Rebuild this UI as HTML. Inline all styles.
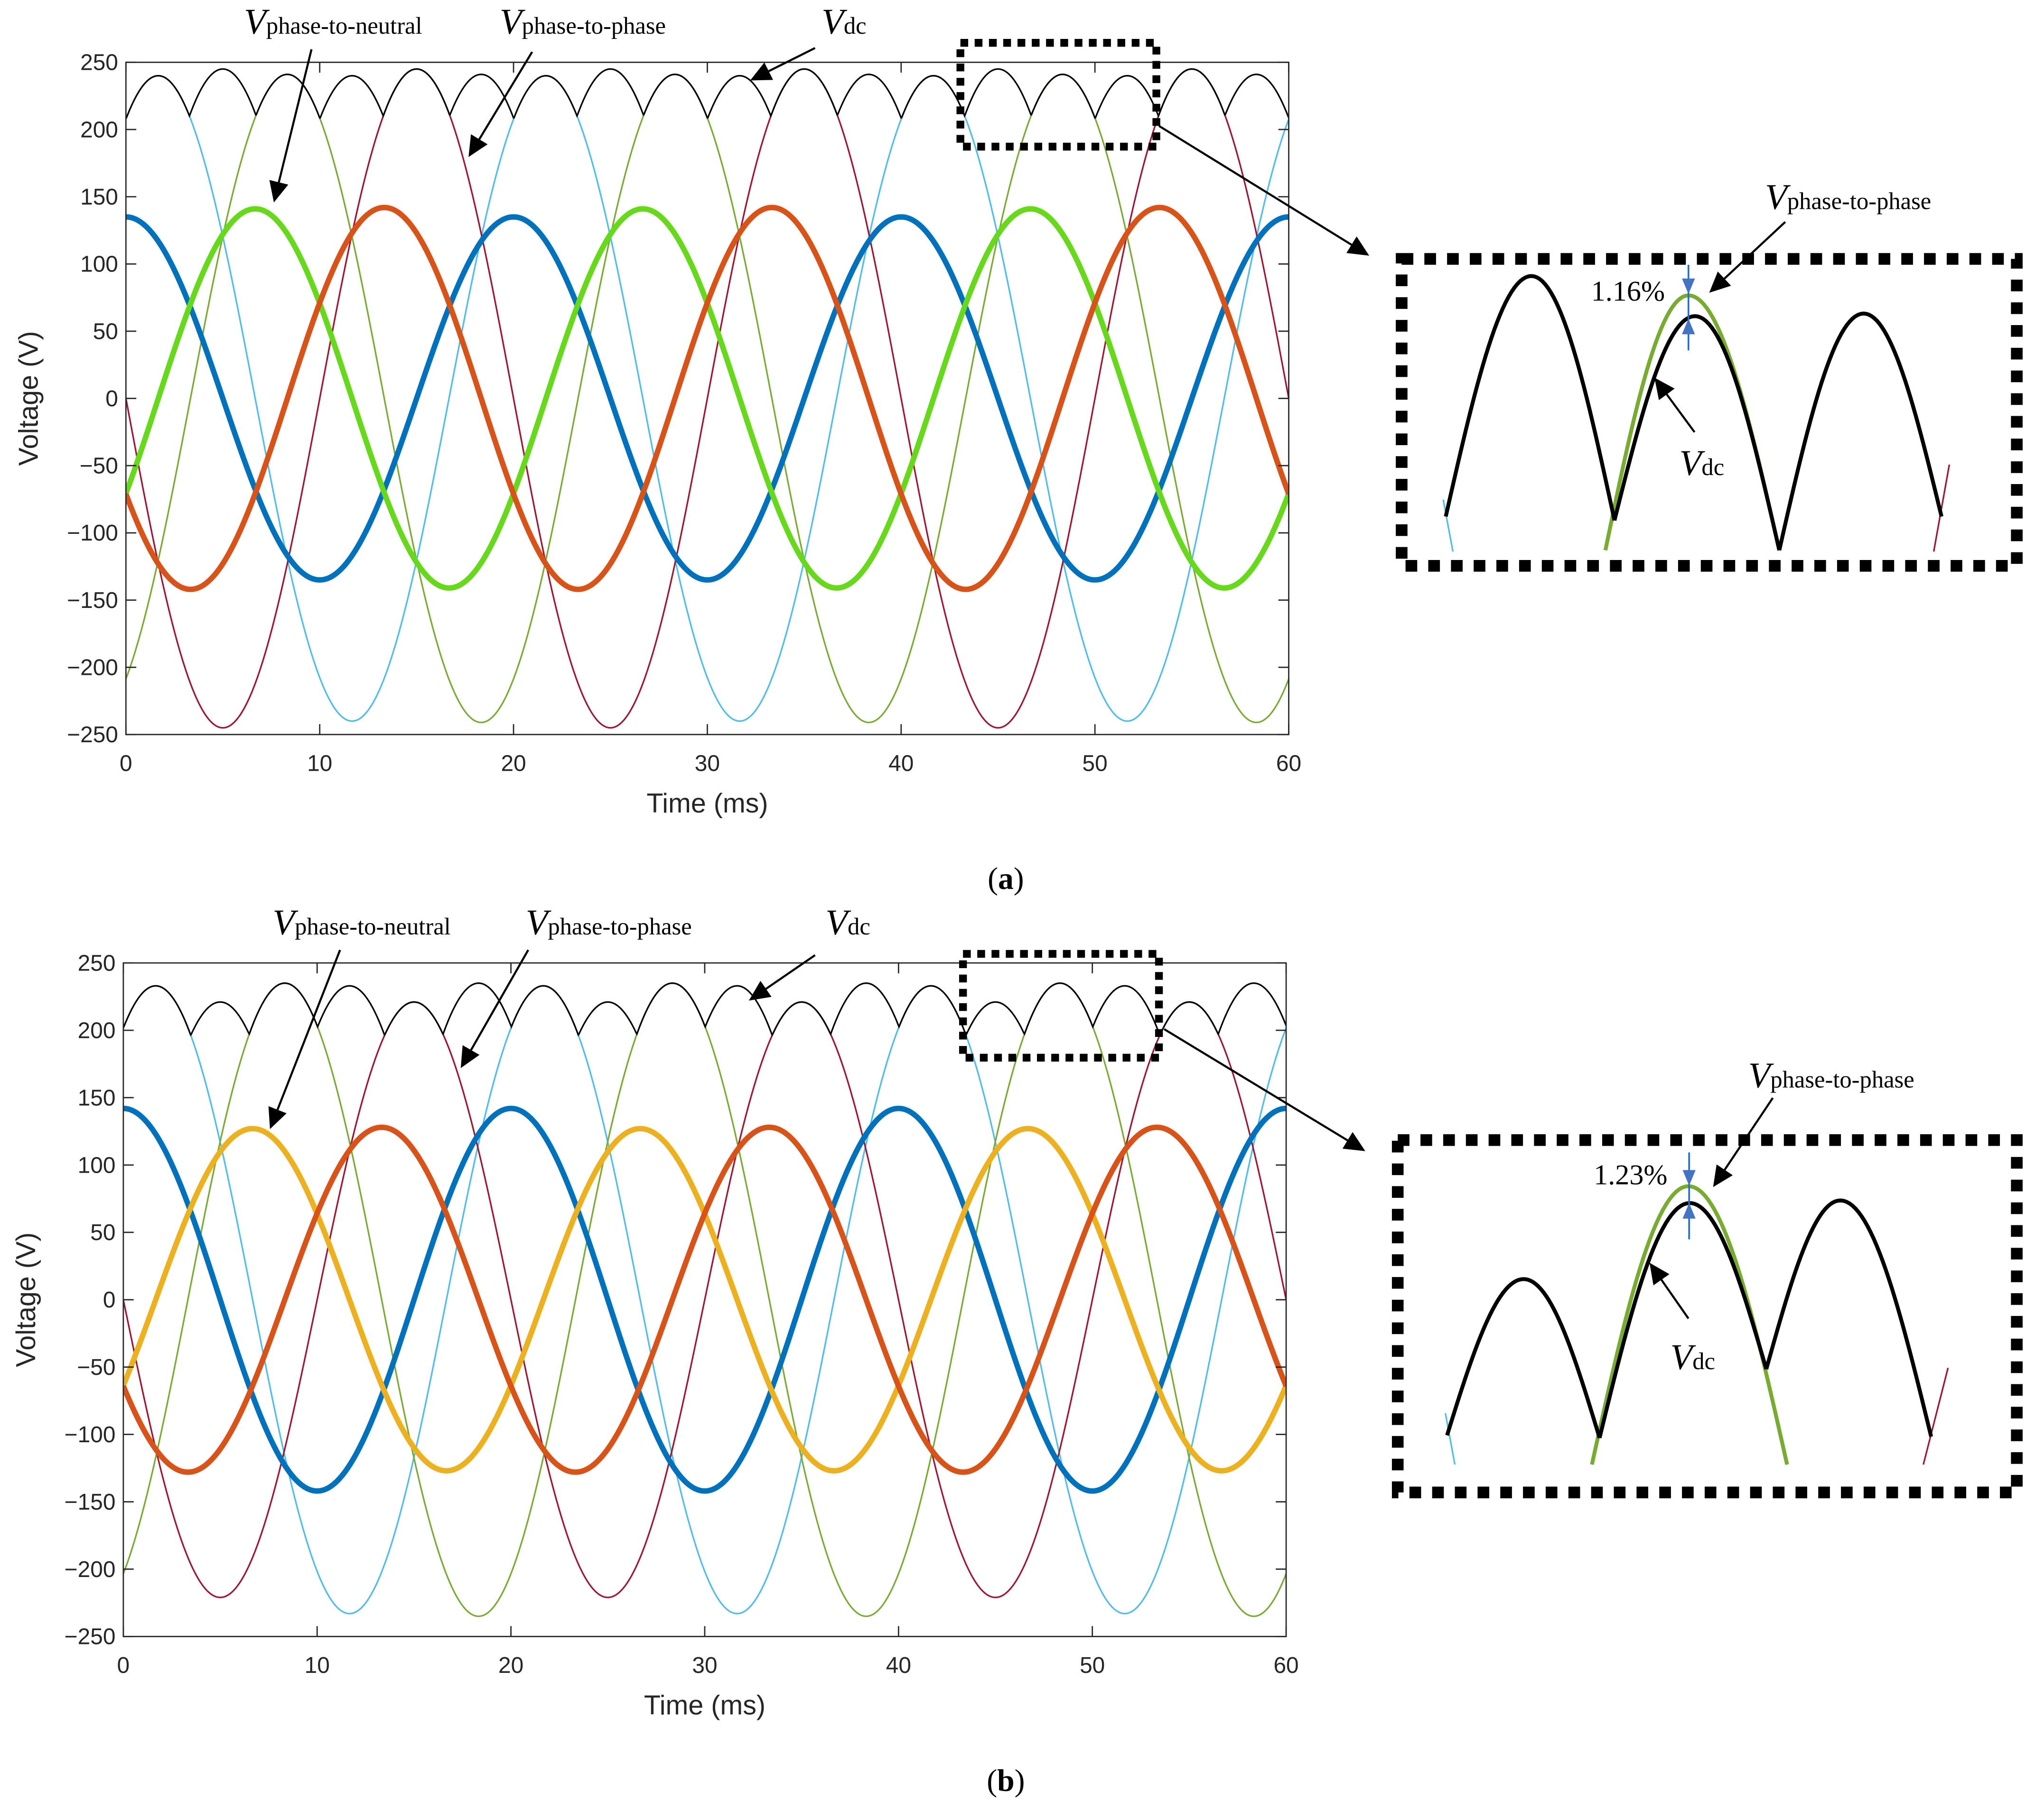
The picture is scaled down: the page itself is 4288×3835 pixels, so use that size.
<!DOCTYPE html>
<html><head><meta charset="utf-8"><style>
html,body{margin:0;padding:0;background:#fff;}
svg{display:block;}
text{font-family:"Liberation Sans",sans-serif;}
.ser{font-family:"Liberation Serif",serif;}
</style></head><body>
<svg id="fig" xmlns="http://www.w3.org/2000/svg" width="4288" height="3835" viewBox="0 0 1568 1402.4">
<rect width="1568" height="1402.4" fill="#fff"/>
</svg>
<script>
// ---------- data (panel a) ----------
const timeRange = [0, 60];           // ms
const voltRange = [-250, 250];       // V
const yTicks = [-250,-200,-150,-100,-50,0,50,100,150,200,250];
const xTicks = [0,10,20,30,40,50,60];
const periodMs = 20;
// phase-to-neutral (thick): amplitude, time of peak (ms)
const aNeutralAmp = [135, 141, 142];
const aNeutralPeak = [0, 6.67, 13.33];
const aNeutralColor = ['#0072BD', '#66D91A', '#D95319'];
// phase-to-phase (thin)
const aLineAmp = [240, 241, 245];
const aLinePeak = [1.67, 8.33, 15.0];
const aLineColor = ['#4DBEEE', '#77AC30', '#A2142F'];
// ---------- data (panel b) ----------
const bNeutralAmp = [142, 127, 128];
const bNeutralPeak = [0, 6.67, 13.33];
const bNeutralColor = ['#0072BD', '#EDB120', '#D95319'];
const bLineAmp = [233, 235, 221];
const bLinePeak = [1.67, 8.33, 15.0];
const bLineColor = ['#4DBEEE', '#77AC30', '#A2142F'];

const NS = 'http://www.w3.org/2000/svg';
const svg = document.getElementById('fig');
function el(tag, attrs, parent){
  const e = document.createElementNS(NS, tag);
  for (const k in attrs) e.setAttribute(k, attrs[k]);
  (parent||svg).appendChild(e);
  return e;
}
function arrow(g, x1,y1,x2,y2, name){
  const a = el('g', {}, g);
  
  
  const dx=x2-x1, dy=y2-y1, L=Math.hypot(dx,dy), ux=dx/L, uy=dy/L;
  const hl=16, hw=7.5;
  const bx=x2-ux*hl, by=y2-uy*hl;
  el('line',{x1:x1,y1:y1,x2:bx,y2:by,stroke:'#000','stroke-width':1.6},a);
  el('polygon',{points:`${x2},${y2} ${bx-uy*hw},${by+ux*hw} ${bx+uy*hw},${by-ux*hw}`,fill:'#000'},a);
}
function vlabel(g, x, y, sub, name){
  const t = el('text', {x:x, y:y, 'font-size':28, class:'ser', fill:'#000'}, g);
  
  
  const v = el('tspan', {'font-style':'italic'}, t); v.textContent='V';
  const s = el('tspan', {'font-size':18.5, dy:0}, t); s.textContent=sub;
  return t;
}

function panel(P){
  const g = el('g', {});
  
  
  const X = t => P.x0 + (t - timeRange[0])/(timeRange[1]-timeRange[0])*(P.x1-P.x0);
  const Y = v => P.y1 - (v - voltRange[0])/(voltRange[1]-voltRange[0])*(P.y1-P.y0);
  const area = el('g', {}, g);
  
  
  el('rect',{x:P.x0,y:P.y0,width:P.x1-P.x0,height:P.y1-P.y0,fill:'#fff'},area);
  const cp = el('clipPath',{id:'cp'+P.id},g);
  el('rect',{x:P.x0,y:P.y0-2,width:P.x1-P.x0,height:P.y1-P.y0+4},cp);
  const lines = el('g',{'clip-path':`url(#cp${P.id})`},g);
  const N = 1200;
  function wave(A, pk, t){ return A*Math.cos(2*Math.PI*(t-pk)/periodMs); }
  P.lineAmp.forEach((A,i)=>{
    let d='';
    for(let k=0;k<=N;k++){ const t=timeRange[0]+k*(timeRange[1]-timeRange[0])/N; d+=(k?'L':'M')+X(t).toFixed(2)+','+Y(wave(A,P.linePeak[i],t)).toFixed(2); }
    const p = el('path',{d:d,fill:'none',stroke:P.lineColor[i],'stroke-width':1.2},lines);
    
    
  });
  P.neutralAmp.forEach((A,i)=>{
    let d='';
    for(let k=0;k<=N;k++){ const t=timeRange[0]+k*(timeRange[1]-timeRange[0])/N; d+=(k?'L':'M')+X(t).toFixed(2)+','+Y(wave(A,P.neutralPeak[i],t)).toFixed(2); }
    const p = el('path',{d:d,fill:'none',stroke:P.neutralColor[i],'stroke-width':4.2},lines);
    
    
  });
  let d='';
  for(let k=0;k<=N*2;k++){ const t=timeRange[0]+k*(timeRange[1]-timeRange[0])/(N*2);
    let m=0; P.lineAmp.forEach((A,i)=>{ m=Math.max(m,Math.abs(wave(A,P.linePeak[i],t))); });
    d+=(k?'L':'M')+X(t).toFixed(2)+','+Y(m).toFixed(2); }
  const vdc = el('path',{d:d,fill:'none',stroke:'#000','stroke-width':1.2},lines);
  
  
  el('rect',{x:P.x0,y:P.y0,width:P.x1-P.x0,height:P.y1-P.y0,fill:'none',stroke:'#262626','stroke-width':1},g);
  const yax = el('g',{},g);
  
  
  yTicks.forEach(v=>{
    el('line',{x1:P.x0,x2:P.x0+8,y1:Y(v),y2:Y(v),stroke:'#262626','stroke-width':1},yax);
    el('line',{x1:P.x1,x2:P.x1-8,y1:Y(v),y2:Y(v),stroke:'#262626','stroke-width':1},yax);
    const t = el('text',{x:P.x0-6,y:Y(v)+6,'text-anchor':'end','font-size':17.5,fill:'#262626'},yax);
    t.textContent = v<0 ? '\u2212'+Math.abs(v) : String(v);
  });
  const xax = el('g',{},g);
  
  
  xTicks.forEach(v=>{
    el('line',{x1:X(v),x2:X(v),y1:P.y1,y2:P.y1-8,stroke:'#262626','stroke-width':1},xax);
    el('line',{x1:X(v),x2:X(v),y1:P.y0,y2:P.y0+8,stroke:'#262626','stroke-width':1},xax);
    const t = el('text',{x:X(v),y:P.y1+28,'text-anchor':'middle','font-size':17.5,fill:'#262626'},xax);
    t.textContent = String(v);
  });
  const xt = el('text',{x:(P.x0+P.x1)/2,y:P.y1+60,'text-anchor':'middle','font-size':21,fill:'#262626'},g);
  xt.textContent='Time (ms)';
  
  
  const cy=(P.y0+P.y1)/2;
  const yt = el('text',{x:P.x0-68,y:cy,'text-anchor':'middle','font-size':21,fill:'#262626',transform:`rotate(-90 ${P.x0-68} ${cy})`},g);
  yt.textContent='Voltage (V)';
  
  
  return g;
}

function inset(g, I){
  const ig = el('g',{},g);
  
  
  el('rect',{x:I.zb[0],y:I.zb[1],width:I.zb[2]-I.zb[0],height:I.zb[3]-I.zb[1],fill:'none',stroke:'#000','stroke-width':6,'stroke-dasharray':'6 5'},ig);
  arrow(ig, I.za[0],I.za[1],I.za[2],I.za[3],'zoom-arrow');
  el('rect',{x:I.box[0],y:I.box[1],width:I.box[2]-I.box[0],height:I.box[3]-I.box[1],fill:'none',stroke:'#000','stroke-width':9,'stroke-dasharray':'9 8.5'},ig);
  function arc(x0,y0,xp,yp,x1,y1,col,w){
    let d='';
    for(let k=0;k<=60;k++){ const s=k/60; let x,y;
      if(s<=0.5){ const u=s*2; x=x0+(xp-x0)*u; const ph=Math.sin(u*Math.PI/2); y=y0+(yp-y0)*ph; }
      else { const u=(s-0.5)*2; x=xp+(x1-xp)*u; const ph=Math.cos(u*Math.PI/2); y=y1+(yp-y1)*ph; }
      d+=(k?'L':'M')+x.toFixed(2)+','+y.toFixed(2);}
    el('path',{d:d,fill:'none',stroke:col,'stroke-width':w},ig);
  }
  I.stubs.forEach(s=>el('line',{x1:s[0],y1:s[1],x2:s[2],y2:s[3],stroke:s[4],'stroke-width':1.2},ig));
  I.green && arc(...I.green,'#77AC30',3);
  I.arcs.forEach(a=>arc(...a,'#000',3));
  const bx=I.blue[0];
  el('line',{x1:bx,x2:bx,y1:I.blue[1],y2:I.blue[4],stroke:'#1F6FC5','stroke-width':1.3},ig);
  el('polygon',{points:`${bx},${I.blue[2]} ${bx-5},${I.blue[2]-12} ${bx+5},${I.blue[2]-12}`,fill:'#4472C4'},ig);
  el('polygon',{points:`${bx},${I.blue[3]} ${bx-5},${I.blue[3]+12} ${bx+5},${I.blue[3]+12}`,fill:'#4472C4'},ig);
  const pt = el('text',{x:I.pct[0],y:I.pct[1],'font-size':22,class:'ser',fill:'#000'},ig);
  pt.textContent=I.pct[2];
  
  
  vlabel(ig, I.vpp[0], I.vpp[1], 'phase-to-phase', 'inset-vpp-label');
  arrow(ig, ...I.vppA, 'inset-vpp-arrow');
  vlabel(ig, I.vdc[0], I.vdc[1], 'dc', 'inset-vdc-label');
  arrow(ig, ...I.vdcA, 'inset-vdc-arrow');
}

const ga = panel({id:'a',name:'panel-a',x0:97,x1:993,y0:48,y1:566,
  neutralAmp:aNeutralAmp,neutralPeak:aNeutralPeak,neutralColor:aNeutralColor,
  lineAmp:aLineAmp,linePeak:aLinePeak,lineColor:aLineColor});
vlabel(ga,188,26,'phase-to-neutral','label-phase-to-neutral');
arrow(ga,240,38,211,156,'arrow-phase-to-neutral');
vlabel(ga,385,26,'phase-to-phase','label-phase-to-phase');
arrow(ga,410,40,361,121,'arrow-phase-to-phase');
vlabel(ga,633,26,'dc','label-vdc');
arrow(ga,628,37,578,62,'arrow-vdc');
inset(ga,{zb:[740,33,891,113],za:[893,97,1055,197],box:[1080,199.5,1554,436],
  stubs:[[1112,385,1119.5,425,'#4DBEEE'],[1502,358,1490,425,'#A2142F']],
  green:[1237,424,1301,227.6,1371,424],
  arcs:[[1114,398,1180,212.7,1244,401],[1244,401,1306,243.6,1371,424],[1371,424,1436,241.6,1496,398]],
  blue:[1301,204,226.6,245.6,270],pct:[1226,231.6,'1.16%'],
  vpp:[1360,161],vppA:[1375.6,171,1317,225.6],vdc:[1294,366],vdcA:[1305.7,333,1274.8,291]});
const la = el('text',{x:775,y:685,'text-anchor':'middle','font-size':24,class:'ser'},ga);
la.innerHTML='(<tspan font-weight="bold">a</tspan>)';



const gb = panel({id:'b',name:'panel-b',x0:95,x1:991,y0:742,y1:1261,
  neutralAmp:bNeutralAmp,neutralPeak:bNeutralPeak,neutralColor:bNeutralColor,
  lineAmp:bLineAmp,linePeak:bLinePeak,lineColor:bLineColor});
vlabel(gb,210,720,'phase-to-neutral','label-phase-to-neutral');
arrow(gb,262,732,208,870,'arrow-phase-to-neutral');
vlabel(gb,405,720,'phase-to-phase','label-phase-to-phase');
arrow(gb,407,732,355,823,'arrow-phase-to-phase');
vlabel(gb,636,720,'dc','label-vdc');
arrow(gb,628,736,577,771,'arrow-vdc');
inset(gb,{zb:[742,735,893,815],za:[897,793,1052,887],box:[1077,878.5,1554,1150],
  stubs:[[1113.7,1089,1121,1128.5,'#4DBEEE'],[1501,1054,1482,1128.5,'#A2142F']],
  green:[1226.6,1128.5,1301,914,1377,1128.5],
  arcs:[[1115,1106,1174,985.6,1232.5,1108],[1232.5,1108,1302,927,1361,1055],[1361,1055,1418,925,1488,1107]],
  blue:[1301.5,888,913.6,927,955],pct:[1228,912.5,'1.23%'],
  vpp:[1347,838],vppA:[1366,846,1320,914.7],vdc:[1287,1055],vdcA:[1301,1016,1271,973]});
const lb = el('text',{x:775,y:1380,'text-anchor':'middle','font-size':24,class:'ser'},gb);
lb.innerHTML='(<tspan font-weight="bold">b</tspan>)';


</script>
</body></html>
